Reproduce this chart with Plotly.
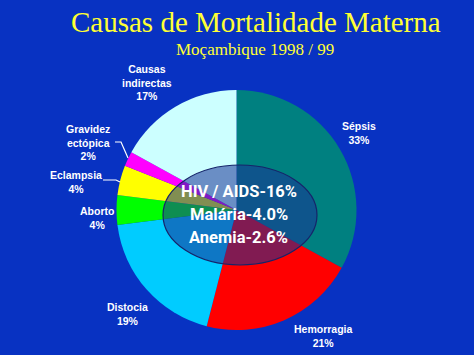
import plotly.graph_objects as go

W, H = 474, 355

causes = ["Sépsis", "Hemorragia", "Distocia", "Aborto", "Eclampsia",
          "Gravidez ectópica", "Causas indirectas"]
percent = [33, 21, 19, 4, 4, 2, 17]
slice_colors = ["#008080", "#ff0000", "#00ccff", "#00ff00", "#ffff00",
                "#ff00ff", "#ccffff"]
label_text = ["Sépsis", "Hemorragia", "Distocia", "Aborto", "Eclampsia",
              "Gravidez<br>ectópica", "Causas<br>indirectas"]
# label anchor positions (pixels) for each cause
label_pos = [(359, 133), (323, 336), (128, 314), (97, 218), (76, 182),
             (88, 142), (147, 82)]
center_lines = ["HIV / AIDS-16%", "Malária-4.0%", "Anemia-2.6%"]


def px(x):
    return x / W


def py(y):
    return 1 - y / H


BG = "#0832c2"

fig = go.Figure()
fig.add_trace(go.Pie(
    labels=causes, values=percent, sort=False, direction="clockwise",
    rotation=0, marker=dict(colors=slice_colors, line=dict(width=0)),
    textinfo="none", hoverinfo="label+percent", showlegend=False,
    domain=dict(x=[px(116), px(357)], y=[py(330), py(90)]),
))

annotations = [
    dict(text="Causas de Mortalidade Materna", x=px(256), y=py(22),
         font=dict(family="Liberation Serif", size=29, color="#ffff33")),
    dict(text="Moçambique 1998 / 99", x=px(255), y=py(49),
         font=dict(family="Liberation Serif", size=17, color="#ffff33")),
]
for name, val, (x, y) in zip(label_text, percent, label_pos):
    annotations.append(dict(
        text=f"<b>{name}<br>{val}%</b>", x=px(x), y=py(y),
        font=dict(family="Liberation Sans", size=10.5, color="white")))
for i, line in enumerate(center_lines):
    annotations.append(dict(
        text=f"<b>{line}</b>", x=px(239), y=py(192 + i * 22.5),
        font=dict(family="Roboto", size=16.5, color="white")))
for a in annotations:
    a.update(xref="paper", yref="paper", showarrow=False,
             xanchor="center", yanchor="middle")

shapes = [
    dict(type="circle", xref="paper", yref="paper",
         x0=px(163), x1=px(317), y0=py(265), y1=py(165),
         fillcolor="rgba(25,50,150,0.55)",
         line=dict(color="#16246a", width=1.2), layer="above"),
    # leader lines
    dict(type="path", xref="paper", yref="paper",
         path=f"M {px(115)} {py(142)} L {px(121)} {py(142)} L {px(128)} {py(158)}",
         line=dict(color="white", width=1.2)),
    dict(type="path", xref="paper", yref="paper",
         path=f"M {px(103)} {py(180)} L {px(116)} {py(180)} L {px(120)} {py(182)}",
         line=dict(color="white", width=1.2)),
]

fig.update_layout(
    width=W, height=H, margin=dict(l=0, r=0, t=0, b=0),
    paper_bgcolor=BG, plot_bgcolor=BG,
    annotations=annotations, shapes=shapes,
)

fig.write_html("out.html", config={"displayModeBar": False},
               post_script="document.body.style.margin='0';")
